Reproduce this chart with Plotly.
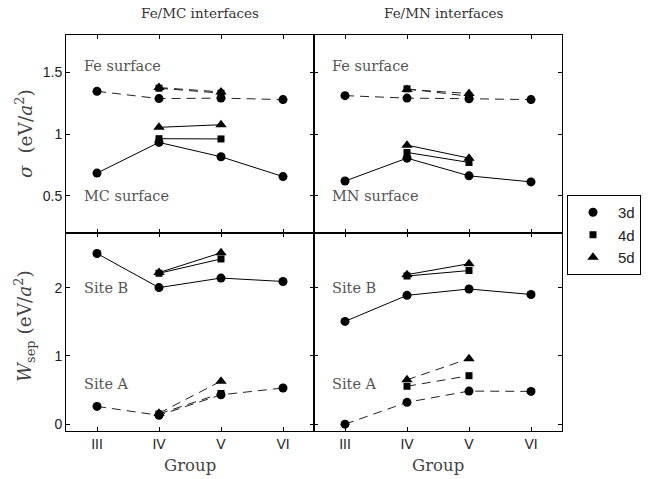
import plotly.graph_objects as go

groups = ["III", "IV", "V", "VI"]
groups_mid = ["IV", "V"]

# Surface energies sigma (eV/a^2)
mc_fe_3d = [1.345, 1.286, 1.29, 1.278]
mc_fe_4d = [1.37, 1.33]
mc_fe_5d = [1.375, 1.34]
mc_surf_3d = [0.684, 0.932, 0.816, 0.656]
mc_surf_4d = [0.962, 0.96]
mc_surf_5d = [1.054, 1.075]

mn_fe_3d = [1.31, 1.29, 1.285, 1.278]
mn_fe_4d = [1.365, 1.305]
mn_fe_5d = [1.36, 1.327]
mn_surf_3d = [0.62, 0.805, 0.662, 0.613]
mn_surf_4d = [0.851, 0.77]
mn_surf_5d = [0.91, 0.805]

# Work of separation W_sep (eV/a^2)
mc_B_3d = [2.5, 2.0, 2.14, 2.09]
mc_B_4d = [2.21, 2.42]
mc_B_5d = [2.22, 2.51]
mc_A_3d = [0.26, 0.13, 0.43, 0.53]
mc_A_4d = [0.15, 0.45]
mc_A_5d = [0.16, 0.63]

mn_B_3d = [1.505, 1.887, 1.98, 1.90]
mn_B_4d = [2.17, 2.25]
mn_B_5d = [2.19, 2.35]
mn_A_3d = [0.0, 0.32, 0.485, 0.48]
mn_A_4d = [0.555, 0.71]
mn_A_5d = [0.65, 0.96]

series_names = ["3d", "4d", "5d"]
symbols = {"3d": "circle", "4d": "square", "5d": "triangle-up"}
msizes = {"3d": 9, "4d": 7, "5d": 10}

fig = go.Figure()

def add(x, y, sym, dashed, xa, ya):
    fig.add_trace(go.Scatter(
        x=x, y=y, mode="lines+markers", xaxis=xa, yaxis=ya, showlegend=False,
        line=dict(color="#222" if dashed else "black", width=1,
                  dash="9px,6px" if dashed else "solid"),
        marker=dict(symbol=symbols[sym], size=msizes[sym], color="black"),
        hoverinfo="skip"))

panels = [
    ("x", "y", [(mc_fe_3d, mc_fe_4d, mc_fe_5d, True), (mc_surf_3d, mc_surf_4d, mc_surf_5d, False)]),
    ("x2", "y2", [(mn_fe_3d, mn_fe_4d, mn_fe_5d, True), (mn_surf_3d, mn_surf_4d, mn_surf_5d, False)]),
    ("x3", "y3", [(mc_B_3d, mc_B_4d, mc_B_5d, False), (mc_A_3d, mc_A_4d, mc_A_5d, True)]),
    ("x4", "y4", [(mn_B_3d, mn_B_4d, mn_B_5d, False), (mn_A_3d, mn_A_4d, mn_A_5d, True)]),
]
for xa, ya, sets in panels:
    for s3, s4, s5, dashed in sets:
        add(groups, s3, "3d", dashed, xa, ya)
        add(groups_mid, s4, "4d", dashed, xa, ya)
        add(groups_mid, s5, "5d", dashed, xa, ya)

for nm in series_names:
    fig.add_trace(go.Scatter(x=[None], y=[None], mode="markers", name=nm,
                             marker=dict(symbol=symbols[nm], size=msizes[nm], color="black"),
                             xaxis="x", yaxis="y", showlegend=True))

W, H = 655, 479
xl = [66 / W, 314 / W]
xr = [314 / W, 562 / W]
yt = [1 - 233 / H, 1 - 35 / H]
yb = [1 - 431 / H, 1 - 233 / H]

tickfont = dict(family="Liberation Sans, Arial, sans-serif", size=14, color="#222222")
axcommon = dict(showline=True, linecolor="black", linewidth=1, mirror="ticks",
                ticks="inside", ticklen=4, tickcolor="black", showgrid=False,
                zeroline=False, tickfont=tickfont)

xcommon = dict(axcommon, type="category", categoryorder="array", categoryarray=groups,
               range=[-0.5, 3.5])

fig.update_layout(
    width=W, height=H, margin=dict(l=0, r=0, t=0, b=0),
    plot_bgcolor="white", paper_bgcolor="white",
    xaxis=dict(xcommon, domain=xl, anchor="y", showticklabels=False),
    xaxis2=dict(xcommon, domain=xr, anchor="y2", showticklabels=False),
    xaxis3=dict(xcommon, domain=xl, anchor="y3"),
    xaxis4=dict(xcommon, domain=xr, anchor="y4"),
    yaxis=dict(axcommon, domain=yt, anchor="x", range=[0.2, 1.8],
               tickvals=[0.5, 1, 1.5], ticktext=["0.5", "1", "1.5"]),
    yaxis2=dict(axcommon, domain=yt, anchor="x2", range=[0.2, 1.8],
                tickvals=[0.5, 1, 1.5], showticklabels=False),
    yaxis3=dict(axcommon, domain=yb, anchor="x3", range=[-0.1, 2.8],
                tickvals=[0, 1, 2]),
    yaxis4=dict(axcommon, domain=yb, anchor="x4", range=[-0.1, 2.8],
                tickvals=[0, 1, 2], showticklabels=False),
    legend=dict(x=567 / W, y=1 - 195 / H, xanchor="left", yanchor="top",
                bordercolor="black", borderwidth=1, bgcolor="white",
                font=dict(family="Liberation Sans, Arial, sans-serif", size=15, color="#222"),
                itemwidth=40),
    showlegend=True,
)

serif = "DejaVu Serif, serif"
ann_font = dict(family=serif, size=14.5, color="#555")
anns = [
    ("x", "y", 1.55, "Fe surface"), ("x", "y", 0.5, "MC surface"),
    ("x2", "y2", 1.55, "Fe surface"), ("x2", "y2", 0.5, "MN surface"),
    ("x3", "y3", 1.99, "Site B"), ("x3", "y3", 0.59, "Site A"),
    ("x4", "y4", 1.99, "Site B"), ("x4", "y4", 0.59, "Site A"),
]
for xa, ya, yv, txt in anns:
    fig.add_annotation(x=-0.25, y=yv, xref=xa, yref=ya, text=txt, showarrow=False,
                       xanchor="left", yanchor="middle", font=ann_font)

title_font = dict(family=serif, size=13.5, color="#333")
fig.add_annotation(x=200 / W, y=1 - 13 / H, xref="paper", yref="paper", text="Fe/MC interfaces",
                   showarrow=False, xanchor="center", yanchor="middle", font=title_font)
fig.add_annotation(x=444 / W, y=1 - 13 / H, xref="paper", yref="paper", text="Fe/MN interfaces",
                   showarrow=False, xanchor="center", yanchor="middle", font=title_font)
for xc in (190 / W, 438 / W):
    fig.add_annotation(x=xc, y=1 - 465 / H, xref="paper", yref="paper", text="Group",
                       showarrow=False, xanchor="center", yanchor="middle",
                       font=dict(family=serif, size=16.5, color="#444"))

fig.add_annotation(x=24 / W, y=1 - 134 / H, xref="paper", yref="paper",
                   text="<i>σ</i>  (eV/<i>a</i><sup>2</sup>)", textangle=-90, showarrow=False,
                   xanchor="center", yanchor="middle", font=dict(family=serif, size=18.5, color="#444"))
fig.add_annotation(x=24 / W, y=1 - 326 / H, xref="paper", yref="paper",
                   text="<i>W</i><sub>sep</sub> (eV/<i>a</i><sup>2</sup>)", textangle=-90, showarrow=False,
                   xanchor="center", yanchor="middle", font=dict(family=serif, size=18.5, color="#444"))

fig.write_html("out.html")
